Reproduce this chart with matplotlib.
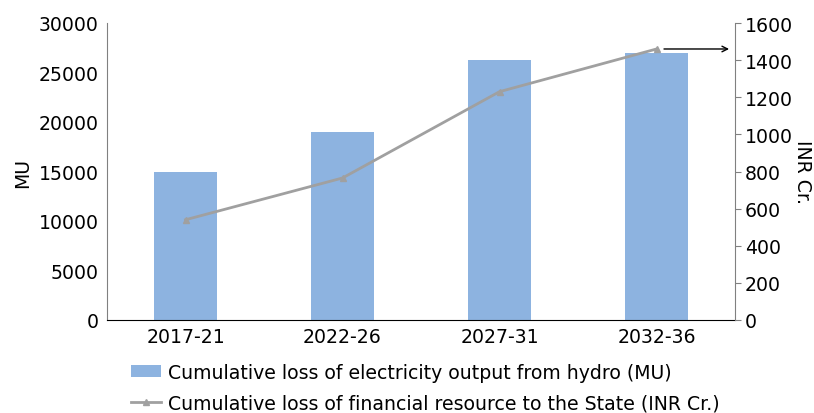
import matplotlib
matplotlib.use("Agg")
import matplotlib.pyplot as plt
from matplotlib.lines import Line2D
from matplotlib.patches import Patch

categories = ["2017-21", "2022-26", "2027-31", "2032-36"]
electricity_loss_mu = [15000, 19000, 26300, 27000]
financial_loss_inr = [540, 765, 1230, 1460]
left_ticks = [0, 5000, 10000, 15000, 20000, 25000, 30000]
right_ticks = [0, 200, 400, 600, 800, 1000, 1200, 1400, 1600]

plt.rcParams['font.family'] = ['DejaVu Sans']
fs = 13.6

fig = plt.figure(figsize=(8.14, 4.14), dpi=100)
ax = fig.add_axes([107/814, 1-321/414, (735-107)/814, (321-24)/414])
x = list(range(len(categories)))
bar_color = "#8DB3E0"
line_color = "#A0A0A0"
ax.bar(x, electricity_loss_mu, width=0.4, color=bar_color, zorder=2)
ax.set_xlim(-0.5, 3.5)
ax.set_ylim(0, 30000)
ax.set_yticks(left_ticks)
ax.set_xticks(x)
ax.set_xticklabels(categories, fontsize=fs)
ax.tick_params(axis='y', length=0, labelsize=fs, pad=6)
ax.tick_params(axis='x', length=0, labelsize=fs, pad=5)
ax.set_ylabel("MU", fontsize=fs, labelpad=5)
for s in ['top', 'right']:
    ax.spines[s].set_visible(False)
ax.spines['left'].set_color('#808080')
ax.spines['bottom'].set_color('black')

ax2 = ax.twinx()
ax2.plot(x, financial_loss_inr, color=line_color, lw=2, marker='^', ms=5, zorder=3)
ax2.set_ylim(0, 1600)
ax2.set_yticks(right_ticks)
ax2.tick_params(axis='y', length=4, color='#808080', labelsize=fs, pad=3, direction='out')
for s in ['top', 'left', 'bottom']:
    ax2.spines[s].set_visible(False)
ax2.spines['right'].set_color('#808080')
ax2.set_ylabel("INR Cr.", fontsize=fs, rotation=-90, labelpad=14)

ax2.annotate("", xy=(3.48, financial_loss_inr[3]), xytext=(3.03, financial_loss_inr[3]),
             arrowprops=dict(arrowstyle='->', color='black', lw=1))

handles = [Patch(facecolor=bar_color, edgecolor='none'),
           Line2D([0], [0], color=line_color, lw=2, marker='^', ms=4)]
labels = ["Cumulative loss of electricity output from hydro (MU)",
          "Cumulative loss of financial resource to the State (INR Cr.)"]
fig.legend(handles, labels, loc='upper left', bbox_to_anchor=(131/814, 1-364/414),
           frameon=False, fontsize=fs, handlelength=1.6, handleheight=0.6,
           labelspacing=0.6, handletextpad=0.35, borderaxespad=0, borderpad=0)

fig.savefig("out.png", dpi=100)
